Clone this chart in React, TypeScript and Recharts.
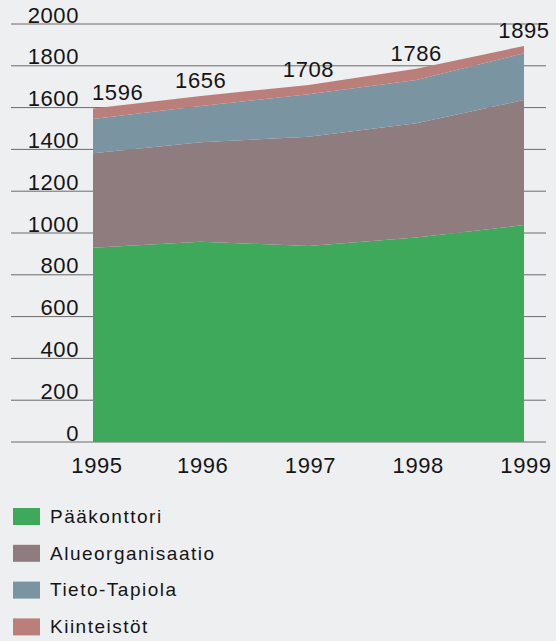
import React from "react";
import { AreaChart, Area, XAxis, YAxis, CartesianGrid, LabelList } from "recharts";

const YEARS = ["1995", "1996", "1997", "1998", "1999"];
const PAAKONTTORI = [930, 958, 938, 979, 1038];
const ALUEORGANISAATIO = [451, 476, 523, 546, 598];
const TIETO_TAPIOLA = [164, 174, 203, 207, 224];
const KIINTEISTOT = [51, 48, 44, 54, 35];
const TOTALS = [1596, 1656, 1708, 1786, 1895];
const Y_TICKS = [0, 200, 400, 600, 800, 1000, 1200, 1400, 1600, 1800, 2000];

const SERIES = [
  { key: "p", name: "Pääkonttori", color: "#3ea85b", values: PAAKONTTORI },
  { key: "a", name: "Alueorganisaatio", color: "#8e7c7f", values: ALUEORGANISAATIO },
  { key: "t", name: "Tieto-Tapiola", color: "#7b94a1", values: TIETO_TAPIOLA },
  { key: "k", name: "Kiinteistöt", color: "#bb7f7b", values: KIINTEISTOT },
];

const data = YEARS.map((year, i) => {
  const row: any = { year };
  SERIES.forEach((s) => (row[s.key] = s.values[i]));
  return row;
});

const W = 556;
const H = 641;
const BG = "#eeeff1";
const TEXT = "#151515";
const FONT = "'Helvetica Neue', Helvetica, Arial, 'Liberation Sans', sans-serif";
const GRID = "#6a6a6a";
const NUM_SPACING = 0.6;

const YTick = (props: any) => {
  const { x, y, payload } = props;
  return (
    <g>
      <line x1={11} x2={93} y1={y} y2={y} stroke={GRID} strokeWidth={1} />
      <line x1={524} x2={546} y1={y} y2={y} stroke={GRID} strokeWidth={1} />
      <text x={x} y={y - 1.5} textAnchor="end" fontSize={22} fill={TEXT} fontFamily={FONT} letterSpacing={NUM_SPACING}>
        {payload.value}
      </text>
    </g>
  );
};

const XTick = (props: any) => {
  const { x, y, payload } = props;
  return (
    <text x={x + (payload.index === 0 ? 4 : 2)} y={y + 23} textAnchor="middle" fontSize={22} fill={TEXT} fontFamily={FONT} letterSpacing={NUM_SPACING}>
      {payload.value}
    </text>
  );
};

const TotalLabel = (props: any) => {
  const { x, y, index } = props;
  const first = index === 0;
  return (
    <text
      x={first ? x - 1 : x}
      y={y - 8}
      textAnchor={first ? "start" : "middle"}
      fontSize={22}
      fill={TEXT}
      fontFamily={FONT}
      letterSpacing={NUM_SPACING}
    >
      {TOTALS[index]}
    </text>
  );
};

const LegendBlock = () => (
  <svg width={W} height={141} style={{ position: "absolute", left: 0, top: 500 }}>
    {SERIES.map((s, i) => (
      <g key={s.key}>
        <rect x={13} y={8 + i * 36.8} width={27} height={17} fill={s.color} />
        <text x={50} y={22.7 + i * 36.8} fontSize={19} fill={TEXT} fontFamily={FONT} letterSpacing={1.5}>
          {s.name}
        </text>
      </g>
    ))}
  </svg>
);

export default function App() {
  return (
    <div style={{ position: "absolute", left: 0, top: 0, width: W, height: H, background: BG, overflow: "hidden" }}>
      <AreaChart width={W} height={H} data={data} margin={{ top: 24, right: 32, bottom: 139, left: 0 }}>
        <CartesianGrid horizontal vertical={false} stroke={GRID} strokeDasharray="" />
        <XAxis
          dataKey="year"
          axisLine={false}
          tickLine={false}
          tick={<XTick />}
          interval={0}
          height={60}
        />
        <YAxis
          domain={[0, 2000]}
          ticks={Y_TICKS}
          axisLine={false}
          tickLine={false}
          tickSize={0}
          tickMargin={14}
          width={93}
          tick={<YTick />}
          interval={0}
        />
        {SERIES.map((s, i) => (
          <Area
            key={s.key}
            dataKey={s.key}
            name={s.name}
            stackId="1"
            type="linear"
            stroke="none"
            fill={s.color}
            fillOpacity={1}
            isAnimationActive={false}
          >
            {i === SERIES.length - 1 ? <LabelList content={<TotalLabel />} /> : null}
          </Area>
        ))}
      </AreaChart>
      <LegendBlock />
    </div>
  );
}
